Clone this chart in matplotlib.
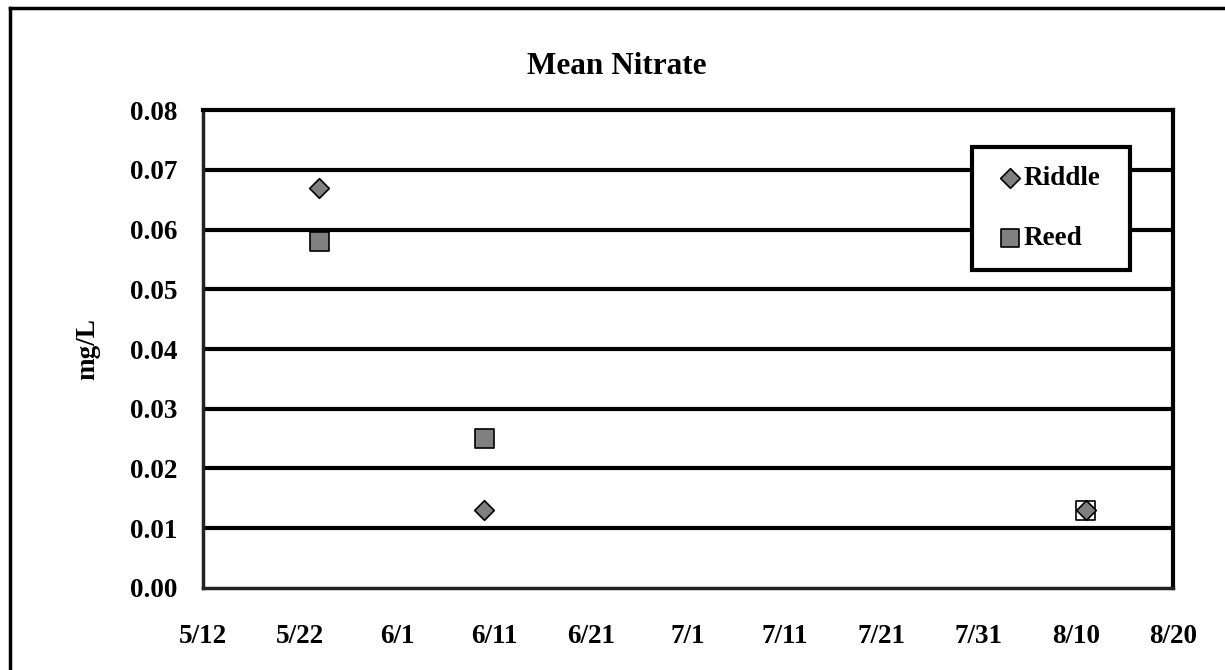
import matplotlib
matplotlib.use("Agg")
import matplotlib.pyplot as plt
import matplotlib.dates as mdates
from matplotlib.lines import Line2D
import pandas as pd

# data (mg/L)
dates = ["2000-05-24", "2000-06-10", "2000-08-11"]
riddle = [0.067, 0.013, 0.013]
reed = [0.058, 0.025, 0.013]
reed_face = ["#808080", "#808080", "white"]

title = "Mean Nitrate"
ylabel = "mg/L"
xstart, xend = "2000-05-12", "2000-08-20"
yticks = [0.0, 0.01, 0.02, 0.03, 0.04, 0.05, 0.06, 0.07, 0.08]

plt.rcParams["font.family"] = ["Liberation Serif", "DejaVu Serif"]
plt.rcParams["font.weight"] = "bold"

x = pd.to_datetime(dates)

fig = plt.figure(figsize=(12.25, 6.7), dpi=100)
ax = fig.add_axes([0.1657, 0.1224, 0.7918, 0.7134])

# horizontal gridlines
for yv in yticks[1:-1]:
    ax.axhline(yv, color="black", lw=3, zorder=1)

ax.scatter(x, reed, marker="s", s=13.5 ** 2, c=reed_face, edgecolors="black",
           linewidths=1.2, zorder=3, label="Reed")
ax.scatter(x, riddle, marker="D", s=10 ** 2, c="#808080", edgecolors="black",
           linewidths=1.2, zorder=4, label="Riddle")

ax.set_xlim(pd.Timestamp(xstart), pd.Timestamp(xend))
ax.set_ylim(0, 0.08)
ax.set_yticks(yticks)
ax.yaxis.set_major_formatter(plt.FuncFormatter(lambda v, p: f"{v:.2f}"))
ax.set_xticks(pd.date_range(xstart, xend, freq="10D"))
ax.xaxis.set_major_formatter(plt.FuncFormatter(
    lambda v, p: f"{mdates.num2date(v).month}/{mdates.num2date(v).day}"))
ax.tick_params(axis="both", length=0, labelsize=19.5)
ax.tick_params(axis="y", pad=18.5)
ax.tick_params(axis="x", pad=26)
for lab in ax.get_xticklabels() + ax.get_yticklabels():
    lab.set_fontweight("bold")

ax.set_ylabel(ylabel, fontsize=19.5, fontweight="bold", labelpad=21)

for side in ["top", "right"]:
    ax.spines[side].set_linewidth(3)
for side in ["left", "bottom"]:
    ax.spines[side].set_linewidth(2.5)
    ax.spines[side].set_color("#222222")

fig.text(617 / 1225, 1 - 67 / 670, title, fontsize=22.5, fontweight="bold",
         ha="center", va="center")

handles, labels = ax.get_legend_handles_labels()
leg = ax.legend(handles[::-1], labels[::-1], loc="upper left", mode="expand",
                bbox_to_anchor=((972 - 203) / 970, (588 - 147) / 478,
                                (1130 - 972) / 970, 0),
                borderaxespad=0, frameon=True, fancybox=False,
                edgecolor="black", framealpha=1, borderpad=0.7,
                labelspacing=1.3, handlelength=1.4, handletextpad=-0.2,
                scatterpoints=1, prop={"weight": "bold", "size": 19.5})
leg.get_frame().set_linewidth(3)
leg.set_zorder(5)
leg.legend_handles[1].set_facecolor("#808080")

# outer chart border (left and top only visible)
fig.add_artist(Line2D([10 / 1225, 10 / 1225], [0, 1 - 8 / 670],
                      transform=fig.transFigure, color="black", lw=2.5))
fig.add_artist(Line2D([10 / 1225, 1], [1 - 8 / 670, 1 - 8 / 670],
                      transform=fig.transFigure, color="black", lw=2.5))

fig.savefig("out.png", dpi=100)
